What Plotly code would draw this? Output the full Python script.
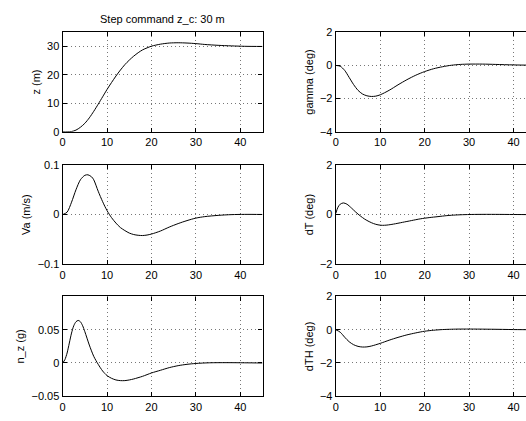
import plotly.graph_objects as go

# ---- data ----
t_z = [0, 1, 2, 3, 4, 5, 6, 7, 8, 9, 10, 11, 12, 13, 14, 15, 16, 17, 18, 19, 20, 22, 24, 26, 28, 30, 32, 35, 38, 41, 45]
z = [0, 0, 0.1, 0.6, 1.6, 3.0, 4.9, 7.2, 9.7, 12.3, 14.9, 17.3, 19.6, 21.7, 23.6, 25.2, 26.6, 27.8, 28.8, 29.5, 30.1,
     30.8, 31.2, 31.3, 31.2, 31.0, 30.7, 30.4, 30.2, 30.05, 30.0]

t_gam = [0, 1, 2, 3, 4, 5, 6, 7, 8, 9, 10, 12, 14, 16, 18, 20, 22, 24, 26, 28, 30, 33, 36, 40, 45]
gamma = [0, -0.05, -0.3, -0.72, -1.15, -1.5, -1.72, -1.83, -1.87, -1.85, -1.77, -1.5, -1.17, -0.86, -0.59, -0.37,
         -0.2, -0.08, 0.01, 0.06, 0.08, 0.08, 0.06, 0.03, 0.01]

t_va = [0, 1, 2, 3, 4, 5, 5.7, 6.5, 7, 8, 9, 10, 11, 12, 13, 14, 15, 16, 17, 18, 19, 20, 22, 24, 26, 28, 30, 32, 35, 38, 41, 45]
va = [0, 0.005, 0.025, 0.05, 0.07, 0.079, 0.08, 0.076, 0.07, 0.047, 0.026, 0.008, -0.006, -0.017, -0.026, -0.032,
      -0.037, -0.040, -0.0415, -0.042, -0.041, -0.039, -0.033, -0.025, -0.018, -0.012, -0.007, -0.004, -0.0015, 0.0,
      0.0005, 0.0003]

t_dt = [0, 0.5, 1, 1.7, 2.5, 3.5, 4.5, 5.5, 6.5, 7.5, 8.5, 9.5, 10.5, 11.5, 13, 15, 17, 19, 21, 23, 25, 27, 29, 32, 36, 40, 45]
dT = [0.05, 0.3, 0.42, 0.47, 0.42, 0.27, 0.1, -0.05, -0.18, -0.28, -0.36, -0.41, -0.43, -0.42, -0.38, -0.31, -0.24,
      -0.17, -0.12, -0.08, -0.04, -0.015, 0.0, 0.01, 0.01, 0.005, 0]

t_nz = [0, 0.5, 1, 1.5, 2, 2.5, 3, 3.5, 4, 4.5, 5, 6, 7, 8, 9, 10, 11, 12, 13, 14, 15, 16, 18, 20, 22, 24, 26, 28, 30, 33, 37, 41, 45]
nz = [0, 0.005, 0.015, 0.03, 0.045, 0.056, 0.062, 0.064, 0.062, 0.056, 0.047, 0.027, 0.01, -0.002, -0.012, -0.019,
      -0.023, -0.0255, -0.0265, -0.0265, -0.0255, -0.024, -0.02, -0.015, -0.011, -0.007, -0.004, -0.002, -0.0007,
      0.0003, 0.0005, 0.0003, 0]

t_dth = [0, 1, 2, 3, 4, 5, 6, 7, 8, 10, 12, 14, 16, 18, 20, 22, 24, 26, 28, 31, 35, 40, 45]
dTH = [0, -0.15, -0.45, -0.72, -0.9, -1.0, -1.04, -1.03, -0.98, -0.82, -0.63, -0.46, -0.31, -0.19, -0.09, -0.03,
       0.01, 0.03, 0.04, 0.04, 0.03, 0.01, 0]

x_ticks = [0, 10, 20, 30, 40]
panels = [
    # (t, y, ylabel, yrange, yticks, column, row)
    (t_z, z, "z (m)", [0, 35], [0, 10, 20, 30], 0, 0),
    (t_gam, gamma, "gamma (deg)", [-4, 2], [-4, -2, 0, 2], 1, 0),
    (t_va, va, "Va (m/s)", [-0.1, 0.1], [-0.1, 0, 0.1], 0, 1),
    (t_dt, dT, "dT (deg)", [-2, 2], [-2, 0, 2], 1, 1),
    (t_nz, nz, "n_z (g)", [-0.05, 0.1], [-0.05, 0, 0.05], 0, 2),
    (t_dth, dTH, "dTH (deg)", [-4, 2], [-4, -2, 0, 2], 1, 2),
]

W, H = 526, 421
col_px = [(60, 261), (334.7, 526)]
row_px = [(27, 129.5), (163.5, 266), (299, 401.7)]
col_xrange = [[0, 45], [0, (526 - 334.7) / 4.47]]

fig = go.Figure()
layout = {}
font = dict(family="Liberation Sans, Arial, sans-serif", size=11, color="black")
for i, (t, y, lab, yr, yt, c, r) in enumerate(panels, start=1):
    xa = "x" if i == 1 else f"x{i}"
    ya = "y" if i == 1 else f"y{i}"
    fig.add_trace(go.Scatter(x=t, y=y, mode="lines", line=dict(color="black", width=1, shape="spline", smoothing=0.8),
                             xaxis=xa, yaxis=ya, showlegend=False, hoverinfo="skip"))
    x0, x1 = col_px[c]
    y0, y1 = row_px[r]
    common = dict(showline=True, linecolor="black", linewidth=1.2, ticks="inside", ticklen=4, tickcolor="black",
                  showgrid=True, gridcolor="#777777", gridwidth=1, griddash="1px,3px", zeroline=False,
                  tickfont=font)
    layout["xaxis" if i == 1 else f"xaxis{i}"] = dict(
        domain=[x0 / W, x1 / W], range=col_xrange[c], tickvals=x_ticks, anchor=ya,
        mirror="ticks", **common)
    layout["yaxis" if i == 1 else f"yaxis{i}"] = dict(
        domain=[1 - y1 / H, 1 - y0 / H], range=yr, tickvals=yt, anchor=xa,
        mirror="ticks" if c == 0 else False,
        title=dict(text=lab, font=font, standoff=4), **common)

fig.update_layout(**layout)
fig.update_layout(width=W, height=H, margin=dict(l=0, r=0, t=0, b=0), paper_bgcolor="white",
                  plot_bgcolor="white", font=font)
fig.add_annotation(text="Step command z_c: 30 m", x=(60 + 261) / 2 / W, y=1 - 13 / H, xref="paper", yref="paper",
                   showarrow=False, font=font, xanchor="center", yanchor="middle")
fig.write_html("out.html", config={"displayModeBar": False},
               post_script="document.body.style.margin='0';document.body.style.overflow='hidden';")
